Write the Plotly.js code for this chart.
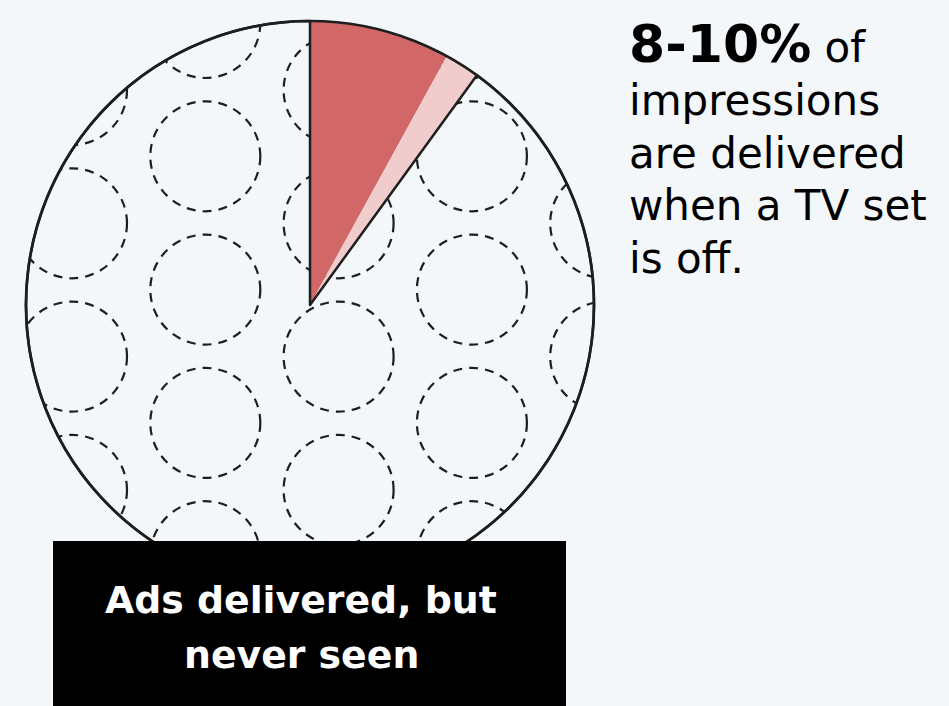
<!DOCTYPE html>
<html><head><meta charset="utf-8">
<script src="https://cdn.plot.ly/plotly-3.0.1.min.js"></script>
<style>html,body{margin:0;padding:0;background:#f3f7fa;}</style>
</head><body><div id="chart" style="width:949px;height:706px;"></div>
<script>
// ---- data ----
const sliceLabels = ['Delivered while TV set is off (8%)', 'Delivered while TV set is off (up to 10%)', 'Other impressions'];
const sliceValues = [8, 2, 90];
const sliceColors = ['#d16767', '#f0cccd', 'rgba(0,0,0,0)'];
const headlineBold = '8-10%';
const headlineFirstRest = 'of';
const headlineLines = ['impressions', 'are delivered', 'when a TV set', 'is off.'];
const boxLines = ['Ads delivered, but', 'never seen'];

// ---- layout helpers ----
const W = 949, H = 706;
const BG = '#f3f7fa';
const INK = '#1e1e1e';
const FONT = 'DejaVu Sans';
const cx = 310, cy = 305, R = 284;
const px = x => x / W, py = y => 1 - y / H;

const shapes = [];
// decorative dashed-circle pattern inside the pie background
const step = 133.3, rc = 55;
for (let col = -1; col <= 5; col++) {
  const x = 72 + col * step;
  const offset = (((col % 2) + 2) % 2 === 0) ? 90 : 23;
  for (let row = -1; row <= 5; row++) {
    const y = offset + row * step;
    if (Math.hypot(x - cx, y - cy) - rc > R) continue;
    shapes.push({type: 'circle', layer: 'below', xref: 'paper', yref: 'paper',
      x0: px(x - rc), x1: px(x + rc), y0: py(y + rc), y1: py(y - rc),
      line: {color: INK, width: 2.2, dash: '9px,7px'}});
  }
}
// mask outside the pie
let path = 'M0,0 L1,0 L1,1 L0,1 Z';
const pts = [];
for (let i = 0; i <= 360; i++) {
  const a = i * Math.PI / 180;
  pts.push(px(cx + R * Math.cos(a)).toFixed(5) + ',' + py(cy + R * Math.sin(a)).toFixed(5));
}
path += ' M' + pts.join(' L') + ' Z';
shapes.push({type: 'path', layer: 'below', xref: 'paper', yref: 'paper', path: path,
  fillcolor: BG, fillrule: 'evenodd', line: {width: 0}});
// outline of the pie
shapes.push({type: 'circle', layer: 'above', xref: 'paper', yref: 'paper',
  x0: px(cx - R), x1: px(cx + R), y0: py(cy + R), y1: py(cy - R),
  line: {color: INK, width: 2.7}, fillcolor: 'rgba(0,0,0,0)'});
// black label box
shapes.push({type: 'rect', layer: 'above', xref: 'paper', yref: 'paper',
  x0: px(53), x1: px(566), y0: 0, y1: py(541), fillcolor: '#000', line: {width: 0}});

const regSize = 42;
const annotations = [
  {xref: 'paper', yref: 'paper', x: px(627), y: py(44), xanchor: 'left', yanchor: 'middle', showarrow: false,
   align: 'left', font: {family: FONT, size: regSize, color: '#000'},
   text: '<span style="font-weight:bold;font-size:52px">' + headlineBold + '</span> ' + headlineFirstRest}
];
// lines 2-5: baselines at ~115, 168, 221, 273
headlineLines.forEach((t, i) => {
  const baseline = 115 + i * 52.7;
  annotations.push({xref: 'paper', yref: 'paper', x: px(627), y: py(baseline - 0.346 * regSize),
    xanchor: 'left', yanchor: 'middle', showarrow: false, align: 'left',
    font: {family: FONT, size: regSize, color: '#000'}, text: t});
});
boxLines.forEach((t, i) => {
  const baseline = 613 + i * 55;
  annotations.push({xref: 'paper', yref: 'paper', x: px(301), y: py(baseline - 0.346 * 37.8),
    xanchor: 'center', yanchor: 'middle', showarrow: false,
    font: {family: FONT, size: 37.8, color: '#fff', weight: 'bold'}, text: t});
});

const data = [{
  type: 'pie', labels: sliceLabels, values: sliceValues, sort: false,
  direction: 'clockwise', rotation: 0, textinfo: 'none', hoverinfo: 'none', showlegend: false,
  marker: {colors: sliceColors, line: {color: ['rgba(0,0,0,0)', 'rgba(0,0,0,0)', INK], width: [0, 0, 2.5]}},
  domain: {x: [px(cx - R), px(cx + R)], y: [py(cy + R), py(cy - R)]}
}];

const layout = {
  width: W, height: H, margin: {l: 0, r: 0, t: 0, b: 0},
  paper_bgcolor: BG, plot_bgcolor: BG, showlegend: false,
  shapes: shapes, annotations: annotations
};
Plotly.newPlot('chart', data, layout, {displayModeBar: false, staticPlot: true});
</script></body></html>
